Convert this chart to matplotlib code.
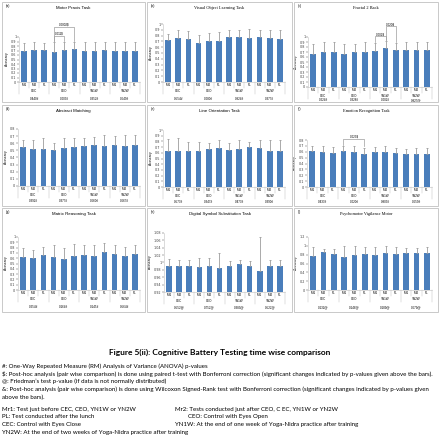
"""Cognitive battery time wise comparison (Figure 5(ii))"""
import matplotlib
matplotlib.use('Agg')
import matplotlib.pyplot as plt
from matplotlib.patches import Rectangle

# canvas size in pixels
W, H = 440, 437

sessions = ['Mr1', 'Mr2', 'PL']
groups = ['CEC', 'CEO', 'YN1W', 'YN2W']

# (a) Motor Praxis Task
motor_mean = [0.70, 0.71, 0.71, 0.67, 0.71, 0.73, 0.70, 0.70, 0.72, 0.69, 0.69, 0.70]
motor_err = [0.17, 0.17, 0.16, 0.21, 0.17, 0.16, 0.18, 0.18, 0.17, 0.19, 0.19, 0.18]
motor_p = ['0.440#', '0.003#', '0.352#', '0.649#']

# (b) Visual Object Learning Task
vol_mean = [0.73, 0.76, 0.74, 0.67, 0.71, 0.70, 0.78, 0.78, 0.76, 0.77, 0.76, 0.75]
vol_err = [0.10, 0.14, 0.14, 0.14, 0.14, 0.16, 0.11, 0.12, 0.15, 0.12, 0.14, 0.15]
vol_p = ['0.554#', '0.080#', '0.924#', '0.377#']

# (c) Fractal 2 Back
f2b_mean = [0.67, 0.71, 0.70, 0.67, 0.70, 0.71, 0.73, 0.78, 0.75, 0.75, 0.75, 0.75]
f2b_err = [0.18, 0.19, 0.20, 0.18, 0.17, 0.19, 0.16, 0.15, 0.14, 0.15, 0.15, 0.15]
f2b_p = ['0.224#', '0.328#', '0.002#', '0.827@']

# (d) Abstract Matching
am_mean = [0.55, 0.52, 0.52, 0.51, 0.54, 0.55, 0.56, 0.57, 0.56, 0.58, 0.56, 0.58]
am_err = [0.10, 0.13, 0.15, 0.09, 0.13, 0.13, 0.12, 0.12, 0.15, 0.12, 0.15, 0.14]
am_p = ['0.392#', '0.377#', '0.660#', '0.667#']

# (e) Line Orientation Task
lo_mean = [0.64, 0.63, 0.63, 0.63, 0.66, 0.68, 0.65, 0.66, 0.71, 0.68, 0.64, 0.64]
lo_err = [0.21, 0.23, 0.16, 0.16, 0.12, 0.14, 0.13, 0.16, 0.08, 0.14, 0.18, 0.18]
lo_p = ['0.573#', '0.347#', '0.473#', '0.390#']

# (f) Emotion Recognition Task
er_mean = [0.62, 0.59, 0.58, 0.62, 0.59, 0.57, 0.59, 0.59, 0.58, 0.56, 0.56, 0.57]
er_err = [0.08, 0.11, 0.10, 0.08, 0.11, 0.10, 0.09, 0.11, 0.09, 0.09, 0.11, 0.09]
er_p = ['0.433#', '0.020#', '0.803#', '0.659#']

# (g) Matrix Reasoning Task
mr_mean = [0.63, 0.61, 0.66, 0.63, 0.58, 0.65, 0.66, 0.65, 0.71, 0.68, 0.65, 0.68]
mr_err = [0.17, 0.15, 0.16, 0.21, 0.21, 0.22, 0.18, 0.20, 0.18, 0.17, 0.17, 0.17]
mr_p = ['0.254#', '0.164#', '0.145#', '0.564#']

# (h) Digital Symbol Substitution Task
dss_mean = [0.991, 0.991, 0.991, 0.987, 0.991, 0.984, 0.991, 0.995, 0.991, 0.978, 0.991, 0.991]
dss_err = [0.018, 0.015, 0.015, 0.024, 0.020, 0.042, 0.012, 0.013, 0.014, 0.091, 0.017, 0.017]
dss_p = ['0.552@', '0.752@', '0.383@', '0.522@']

# (i) Psychomotor Vigilance Motor
pvm_mean = [0.78, 0.85, 0.82, 0.74, 0.79, 0.82, 0.80, 0.84, 0.82, 0.84, 0.83, 0.83]
pvm_err = [0.19, 0.08, 0.11, 0.25, 0.20, 0.15, 0.17, 0.15, 0.15, 0.11, 0.12, 0.14]
pvm_p = ['0.132@', '0.148@', '0.189@', '0.679@']

ticks_01 = [i / 10 for i in range(11)]
ticks_08 = [i / 10 for i in range(9)]
ticks_dss = [0.92, 0.94, 0.96, 0.98, 1.0, 1.02, 1.04, 1.06, 1.08]
ticks_pvm = [0, 0.2, 0.4, 0.6, 0.8, 1.0, 1.2]

BLUE = '#4a7ebb'
GREY = '#9c9c9c'
SANS = 'Liberation Sans'
SERIF = 'Liberation Serif'

fig = plt.figure(figsize=(W / 100, H / 100), dpi=100)


def fx(x):
    return x / W


def fy(y):
    return 1 - y / H


def fmt_tick(v):
    s = f'{v:.2f}'.rstrip('0').rstrip('.')
    return s


def draw_panel(box, label, title, tfont, axbox, mean, err, pvals, ticks,
               brackets=(), poff=17):
    """Draw one framed panel; box and axbox are pixel boxes (l, t, r, b)"""
    l, t, r, b = box
    fig.patches.append(Rectangle((fx(l), fy(b)), fx(r - l), (b - t) / H,
                                 transform=fig.transFigure, fill=False,
                                 edgecolor='#c9c9c9', lw=0.7))
    fig.text(fx(l + 4), fy(t + 4), label, fontsize=2.6, family=SANS,
             va='center', ha='left')
    fig.text(fx((l + r) / 2), fy(t + 6), title, fontsize=3.2, family=tfont,
             va='center', ha='center')

    al, at, ar, ab = axbox
    ax = fig.add_axes([fx(al), fy(ab), fx(ar - al), (ab - at) / H])
    hpx = ab - at
    x = list(range(len(mean)))
    ax.bar(x, mean, width=0.55, color=BLUE, zorder=2)
    ax.errorbar(x, mean, yerr=[[0] * len(err), err], fmt='none',
                ecolor=GREY, elinewidth=0.6, capsize=1.0, capthick=0.6,
                zorder=3)
    ax.set_xlim(-0.5, len(mean) - 0.5)
    ax.set_ylim(ticks[0], ticks[-1])
    ax.set_yticks(ticks)
    ax.set_yticklabels([fmt_tick(v) for v in ticks])
    ax.tick_params(axis='y', labelsize=2.4, length=1.2, width=0.3,
                   pad=0.8, colors='#404040')
    ax.tick_params(axis='x', bottom=False, labelbottom=False)
    for s in ['top', 'right']:
        ax.spines[s].set_visible(False)
    for s in ['left', 'bottom']:
        ax.spines[s].set_color('#bfbfbf')
        ax.spines[s].set_linewidth(0.4)
    ax.set_ylabel('Accuracy', fontsize=2.4, labelpad=1.5, family=SANS)
    ax.patch.set_alpha(0)

    tr = ax.get_xaxis_transform()
    def yo(px):
        return -px / hpx
    # category boxes under the axis
    n = len(mean)
    for k in range(n + 1):
        long = k % 3 == 0
        ax.plot([k - 0.5, k - 0.5], [0, yo(12 if long else 6)],
                transform=tr, color='#bfbfbf', lw=0.35, clip_on=False)
    for k in range(n):
        ax.text(k, yo(3.2), sessions[k % 3], transform=tr, fontsize=2.2,
                ha='center', va='center', family=SANS)
    for g in range(len(groups)):
        ax.text(3 * g + 1, yo(8.6), groups[g], transform=tr, fontsize=2.2,
                ha='center', va='center', family=SANS)
        ax.text(3 * g + 1, yo(poff), pvals[g], transform=tr, fontsize=2.2,
                ha='center', va='center', family=SANS)

    # significance brackets
    for i, j, yline, yleg_i, yleg_j, txt in brackets:
        ax.plot([i, i, j, j], [yleg_i, yline, yline, yleg_j], color=GREY,
                lw=0.5, clip_on=False, zorder=4)
        ax.text((i + j) / 2, yline, txt, fontsize=2.2, ha='center',
                va='bottom', family=SANS)
    return ax


# row 1
draw_panel((2, 2, 145, 102), '(a)', 'Motor Praxis Task', SANS,
           (19, 37, 140, 82), motor_mean, motor_err, motor_p, ticks_01,
           brackets=[(3, 4, 1.03, 0.92, 0.92, '0.011$'),
                     (3, 5, 1.23, 0.92, 0.92, '0.0002$')])
draw_panel((147, 2, 292, 102), '(b)', 'Visual Object Learning Task', SERIF,
           (163, 24, 285, 82), vol_mean, vol_err, vol_p, ticks_01)
draw_panel((294, 2, 438, 102), '(c)', 'Fractal 2 Back', SERIF,
           (308, 37, 432, 87), f2b_mean, f2b_err, f2b_p, ticks_01,
           brackets=[(6, 7, 1.02, 0.90, 0.95, '0.002$'),
                     (7, 8, 1.22, 0.95, 0.90, '0.020$')], poff=13)
# row 2
draw_panel((2, 105, 145, 206), '(d)', 'Abstract Matching', SANS,
           (18, 129, 140, 186), am_mean, am_err, am_p, ticks_08, poff=15)
draw_panel((147, 105, 292, 206), '(e)', 'Line Orientation Task', SANS,
           (163, 130, 285, 187), lo_mean, lo_err, lo_p, ticks_01, poff=15)
draw_panel((294, 105, 438, 206), '(f)', 'Emotion Recognition Task', SERIF,
           (307, 140, 432, 187), er_mean, er_err, er_p, ticks_08,
           brackets=[(3, 5, 0.82, 0.72, 0.70, '0.023$')], poff=15)
# row 3
draw_panel((2, 208, 145, 312), '(g)', 'Matrix Reasoning Task', SANS,
           (18, 237, 140, 290), mr_mean, mr_err, mr_p, ticks_01)
draw_panel((147, 208, 292, 312), '(h)', 'Digital Symbol Substitution Task',
           SANS, (164, 233, 285, 292), dss_mean, dss_err, dss_p, ticks_dss,
           poff=15)
draw_panel((294, 208, 438, 312), '(i)', 'Psychomotor Vigilance Motor', SERIF,
           (308, 237, 432, 290), pvm_mean, pvm_err, pvm_p, ticks_pvm)

# caption
CAP = 'Lato'
CAP_SIZE = 4.4
STEP = 7.8
fig.text(0.5, fy(352), 'Figure 5(ii): Cognitive Battery Testing time wise comparison',
         fontsize=6.0, fontweight='bold', family=CAP, ha='center', va='center')
notes = [
    '#: One-Way Repeated Measure (RM) Analysis of Variance (ANOVA) p-values',
    '$: Post-hoc analysis (pair wise comparison) is done using paired t-test with Bonferroni correction (significant changes indicated by p-values given above the bars).',
    '@: Friedman\u2019s test p-value (if data is not normally distributed)',
    '&: Post-hoc analysis (pair wise comparison) is done using Wilcoxon Signed-Rank test with Bonferroni correction (significant changes indicated by p-values given',
    'above the bars).',
]
for k, line in enumerate(notes):
    fig.text(fx(2), fy(366 + STEP * k), line, fontsize=CAP_SIZE, family=CAP,
             ha='left', va='center')

left_col = [
    'Mr1: Test just before CEC, CEO, YN1W or YN2W',
    'PL: Test conducted after the lunch',
    'CEC: Control with Eyes Close',
    'YN2W: At the end of two weeks of Yoga-Nidra practice after training',
]
right_col = [
    ('Mr2: Tests conducted just after CEO, C EC, YN1W or YN2W', 175),
    ('CEO: Control with Eyes Open', 188),
    ('YN1W: At the end of one week of Yoga-Nidra practice after training', 175),
]
for k, line in enumerate(left_col):
    fig.text(fx(2), fy(409 + STEP * k), line, fontsize=CAP_SIZE, family=CAP,
             ha='left', va='center')
for k, (line, xp) in enumerate(right_col):
    fig.text(fx(xp), fy(409 + STEP * k), line, fontsize=CAP_SIZE, family=CAP,
             ha='left', va='center')

fig.savefig('out.png', dpi=100)
